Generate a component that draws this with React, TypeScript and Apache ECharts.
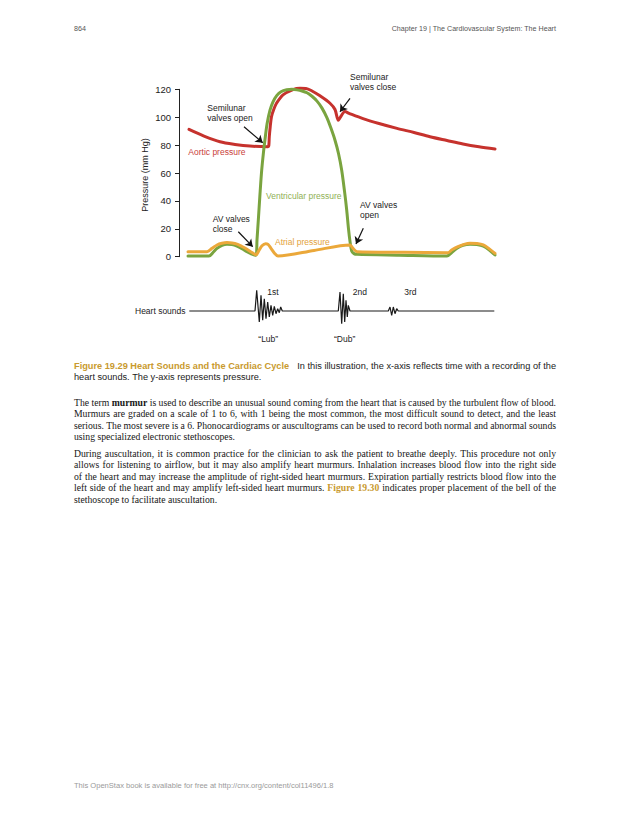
import React, { useEffect, useRef } from "react";
import * as echarts from "echarts";

// ---------- chart data (time in arbitrary units, pressure in mm Hg) ----------
const aorticPressure: [number, number][] = [
  [10, 91.3], [25, 86.5], [41, 82.4], [56, 80.5], [71, 79.3], [89, 78.9], [89.8, 79.5],
  [90.3, 86], [91.2, 93], [92.5, 100.4], [95, 106], [97.5, 110], [104, 116], [114, 119.8],
  [121, 120.7], [127, 120.6], [133, 118.8], [141, 115.3], [151, 110], [156, 105.5],
  [159.3, 97.8], [161, 99.5], [166, 104], [170, 102.8], [184, 99], [200, 95.5], [218, 92],
  [235, 89], [251, 86], [268, 83.3], [284, 80.8], [300, 78.8], [316, 77.2],
];

const ventricularPressure: [number, number][] = [
  [9, 0.5], [30, 0.5], [34, 3], [38, 6], [43, 8.2], [48, 9], [53, 8.7], [58, 7.6], [63, 5.8],
  [68, 3.6], [73, 1.8], [77, 1], [78, 12], [79.3, 26], [81, 45], [82.7, 62], [84.5, 75],
  [86, 84], [88, 95], [91, 105], [94, 111], [97.7, 115.5], [102, 118.3], [107.7, 119.7],
  [113, 120], [118, 119.6], [123, 118.8], [128, 117.5], [133, 115], [138, 111.5],
  [143, 106.5], [148, 99.5], [152, 92], [156, 83.5], [159.5, 74], [162.7, 62], [165.5, 47],
  [167.7, 33.5], [169.5, 20], [171, 11], [172.7, 4], [175, 2.2], [178, 1.7], [220, 1.1],
  [268, 0.5], [272, 2.5], [278, 6], [284, 8.2], [291, 9], [298, 8.7], [304.3, 7.6], [310, 5],
  [316, 1.2],
];

const atrialPressure: [number, number][] = [
  [9, 3.6], [28, 3.6], [33, 6], [38, 8.4], [43, 9.6], [48, 10.1], [53, 9.8], [58, 9],
  [63, 7.3], [68, 5.3], [73, 3], [77, 1.4], [80, 4.5], [83, 7.8], [86.5, 9.3], [89, 8.8],
  [92, 6], [95.5, 2.5], [99, 0.5], [135, 4.5], [171, 8.4], [174, 6], [178, 3.6], [225, 3.2],
  [269, 2.9], [273, 5], [279, 7.2], [285, 8.8], [291, 9.6], [298, 9.4], [304.3, 8.4],
  [310, 5.8], [316, 2.4],
];

// heart sound recording (relative amplitude)
const heartSoundTrace: [number, number][] = [
  [10.3, 0], [76, 0], [77.7, 20.7], [80.3, -11], [82, 15.7], [83.7, -9.3], [85.3, 12.3],
  [87, -7.7], [88.7, 9], [90.3, -6], [92, 5.7], [93.7, -4.3], [95.3, 4.7], [97, -2.7],
  [98.7, 2.3], [100.3, -1.7], [101.7, 4], [103.3, 0], [159.3, 0], [161, 19], [162.7, -12.7],
  [164.3, 17.3], [165.7, -11], [167, 10.7], [168.3, -6], [169.3, 5.7], [171, 0], [209.3, 0],
  [211, 4], [212.7, -4.3], [214.3, 4], [216, -2.7], [217.7, 2.3], [219.3, 0], [315.3, 0],
];

// annotation arrows: [fromTime, fromPressure, toTime, toPressure]
const valveArrows: [number, number, number, number][] = [
  [65, 93.2, 83.7, 81.7],
  [171, 113.5, 161, 103.9],
  [59.3, 17.9, 73.7, 7.2],
  [184.3, 20.4, 177, 9.1],
];

const pressureAxis = { min: 0, max: 120, interval: 20 };
const timeAxis = { min: 0, max: 320 };
const soundAxis = { min: -22, max: 22 };

// ---------- page text ----------
const headerPage = "864";
const headerChapter = "Chapter 19 | The Cardiovascular System: The Heart";
const captionTitle = "Figure 19.29 Heart Sounds and the Cardiac Cycle";
const captionLine1 = "In this illustration, the x-axis reflects time with a recording of the";
const captionLine2 = "heart sounds. The y-axis represents pressure.";
const paragraph1 = [
  "The term *murmur is used to describe an unusual sound coming from the heart that is caused by the turbulent flow of blood.",
  "Murmurs are graded on a scale of 1 to 6, with 1 being the most common, the most difficult sound to detect, and the least",
  "serious. The most severe is a 6. Phonocardiograms or auscultograms can be used to record both normal and abnormal sounds",
  "using specialized electronic stethoscopes.",
];
const paragraph2 = [
  "During auscultation, it is common practice for the clinician to ask the patient to breathe deeply. This procedure not only",
  "allows for listening to airflow, but it may also amplify heart murmurs. Inhalation increases blood flow into the right side",
  "of the heart and may increase the amplitude of right-sided heart murmurs. Expiration partially restricts blood flow into the",
  "left side of the heart and may amplify left-sided heart murmurs. ^Figure ^19.30 indicates proper placement of the bell of the",
  "stethoscope to facilitate auscultation.",
];
const footerText = "This OpenStax book is available for free at http://cnx.org/content/col11496/1.8";

const SANS = "Liberation Sans";
const SERIF = "Liberation Serif";
const GOLD = "#c99a2e";
const RED = "#c6322d";
const GREEN = "#7aa43f";
const ORANGE = "#eba83a";
const INK = "#222";
const BODY_INK = "#161616";

let measureCtx: CanvasRenderingContext2D | null = null;
function measure(text: string, size: number, family: string, weight = "normal") {
  if (!measureCtx) measureCtx = document.createElement("canvas").getContext("2d");
  measureCtx!.font = `${weight} ${size}px "${family}"`;
  return measureCtx!.measureText(text).width;
}
function sizeFor(text: string, width: number, family: string, weight = "normal") {
  const w10 = measure(text, 10, family, weight);
  return Math.max(5, Math.min(12, (width / w10) * 10));
}

function txt(
  text: string,
  x: number,
  y: number,
  o: { size?: number; color?: string; weight?: string; family?: string; align?: string; rotation?: number } = {}
) {
  const align = o.align ?? "left";
  return {
    type: "text",
    x,
    y,
    rotation: o.rotation ?? 0,
    silent: true,
    z: 100,
    style: {
      text,
      fontSize: o.size ?? 8.5,
      fontFamily: o.family ?? SANS,
      fontWeight: o.weight ?? "normal",
      fill: o.color ?? INK,
      align,
      textAlign: align,
      verticalAlign: "middle",
      textVerticalAlign: "middle",
    },
  };
}

type Word = { t: string; b?: boolean; c?: string };
function parseWords(line: string): Word[] {
  return line.split(" ").map((w) =>
    w.startsWith("^") ? { t: w.slice(1), b: true, c: GOLD } : w.startsWith("*") ? { t: w.slice(1), b: true } : { t: w }
  );
}

function layoutLine(
  words: Word[], x0: number, x1: number, y: number, family: string, size: number, justify: boolean, color: string
) {
  const widths = words.map((w) => measure(w.t, size, family, w.b ? "bold" : "normal"));
  const total = widths.reduce((a, b) => a + b, 0);
  const space = measure(" ", size, family);
  const gap = justify && words.length > 1 ? (x1 - x0 - total) / (words.length - 1) : space;
  let x = x0;
  return words.map((w, i) => {
    const el = txt(w.t, x, y, { size, family, weight: w.b ? "bold" : "normal", color: w.c ?? color });
    x += widths[i] + gap;
    return el;
  });
}

function buildOption() {
  const L = 74;
  const R = 556;
  const graphics: any[] = [];

  // header / footer
  const headSize = sizeFor(headerChapter, 165, SANS);
  graphics.push(txt(headerPage, L, 29, { size: headSize, color: "#555" }));
  graphics.push(txt(headerChapter, R, 29, { size: headSize, color: "#555", align: "right" }));
  graphics.push(txt(footerText, L, 785, { size: sizeFor(footerText, 260, SANS), color: "#9a9a9a" }));

  // chart annotations
  graphics.push(txt("Pressure (mm Hg)", 145, 175, { size: 9, rotation: Math.PI / 2, align: "center" }));
  graphics.push(txt("Semilunar", 207.3, 108.3));
  graphics.push(txt("valves open", 207.3, 118.3));
  graphics.push(txt("Semilunar", 350, 77.3));
  graphics.push(txt("valves close", 350, 87.3));
  graphics.push(txt("Aortic pressure", 188.3, 151.7, { color: "#c9403a" }));
  graphics.push(txt("Ventricular pressure", 266, 195.7, { color: "#8fb055" }));
  graphics.push(txt("AV valves", 360, 205));
  graphics.push(txt("open", 360, 215));
  graphics.push(txt("AV valves", 212.7, 219.3));
  graphics.push(txt("close", 212.7, 229));
  graphics.push(txt("Atrial pressure", 275, 242.3, { color: "#e3a23a" }));
  graphics.push(txt("Heart sounds", 135, 311));
  graphics.push(txt("1st", 267.3, 291.7));
  graphics.push(txt("2nd", 352.7, 291.7));
  graphics.push(txt("3rd", 404.3, 291.7));
  graphics.push(txt("\u201cLub\u201d", 258.3, 339.3));
  graphics.push(txt("\u201cDub\u201d", 334, 339.3));

  // caption
  const titleSize = sizeFor(captionTitle, 215.3, SANS, "bold");
  const capSize = sizeFor(captionLine2, 187.7, SANS);
  graphics.push(txt(captionTitle, L, 365.7, { size: titleSize, weight: "bold", color: GOLD }));
  const titleEnd = L + measure(captionTitle, titleSize, SANS, "bold");
  graphics.push(...layoutLine(parseWords(captionLine1), titleEnd + 8, R, 365.7, SANS, capSize, true, INK));
  graphics.push(...layoutLine(parseWords(captionLine2), L, R, 377.3, SANS, capSize, false, INK));

  // body paragraphs
  const bodySize =
    (sizeFor(paragraph1[3], 161.7, SERIF) + sizeFor(paragraph2[4], 142.7, SERIF)) / 2;
  const lh = 11.45;
  paragraph1.forEach((line, i) => {
    graphics.push(
      ...layoutLine(parseWords(line), L, R, 402.3 + i * lh, SERIF, bodySize, i < paragraph1.length - 1, BODY_INK)
    );
  });
  paragraph2.forEach((line, i) => {
    graphics.push(
      ...layoutLine(parseWords(line), L, R, 453.3 + i * lh, SERIF, bodySize, i < paragraph2.length - 1, BODY_INK)
    );
  });

  const pressureLine = (name: string, data: [number, number][], color: string, z: number) => ({
    name,
    type: "line",
    xAxisIndex: 0,
    yAxisIndex: 0,
    data,
    showSymbol: false,
    symbol: "none",
    smooth: 0.3,
    clip: false,
    z,
    lineStyle: { color, width: 3, cap: "round", join: "round" },
    itemStyle: { color },
    emphasis: { disabled: true },
  });

  const aortic: any = pressureLine("Aortic pressure", aorticPressure, RED, 2);
  aortic.markLine = {
    silent: true,
    symbol: ["none", "arrow"],
    symbolSize: 7,
    lineStyle: { color: "#111", width: 1.2, type: "solid" },
    itemStyle: { color: "#111" },
    label: { show: false },
    emphasis: { disabled: true },
    z: 10,
    data: valveArrows.map((a) => [{ coord: [a[0], a[1]] }, { coord: [a[2], a[3]] }]),
  };

  return {
    animation: false,
    backgroundColor: "#fff",
    grid: [
      { left: 179, top: 89.3, width: 320, height: 167.4 },
      { left: 179, top: 289, width: 320, height: 44 },
    ],
    xAxis: [
      { type: "value", gridIndex: 0, min: timeAxis.min, max: timeAxis.max, show: false },
      { type: "value", gridIndex: 1, min: timeAxis.min, max: timeAxis.max, show: false },
    ],
    yAxis: [
      {
        type: "value",
        gridIndex: 0,
        min: pressureAxis.min,
        max: pressureAxis.max,
        interval: pressureAxis.interval,
        axisLine: { show: true, lineStyle: { color: INK, width: 1 } },
        axisTick: { show: true, length: 4, lineStyle: { color: INK, width: 1 } },
        axisLabel: { fontSize: 9.5, color: INK, margin: 8, fontFamily: SANS },
        splitLine: { show: false },
      },
      { type: "value", gridIndex: 1, min: soundAxis.min, max: soundAxis.max, show: false },
    ],
    series: [
      aortic,
      pressureLine("Ventricular pressure", ventricularPressure, GREEN, 3),
      pressureLine("Atrial pressure", atrialPressure, ORANGE, 4),
      {
        name: "Heart sounds",
        type: "line",
        xAxisIndex: 1,
        yAxisIndex: 1,
        data: heartSoundTrace,
        showSymbol: false,
        symbol: "none",
        clip: false,
        lineStyle: { color: "#1a1a1a", width: 1.2 },
        itemStyle: { color: "#1a1a1a" },
        emphasis: { disabled: true },
      },
    ],
    graphic: graphics,
  };
}

export default function App() {
  const ref = useRef<HTMLDivElement>(null);
  useEffect(() => {
    const chart = echarts.init(ref.current!, null, { renderer: "svg" });
    chart.setOption(buildOption() as any);
    return () => chart.dispose();
  }, []);
  return (
    <div
      ref={ref}
      style={{ position: "absolute", left: 0, top: 0, width: 630, height: 815, background: "#fff" }}
    />
  );
}
